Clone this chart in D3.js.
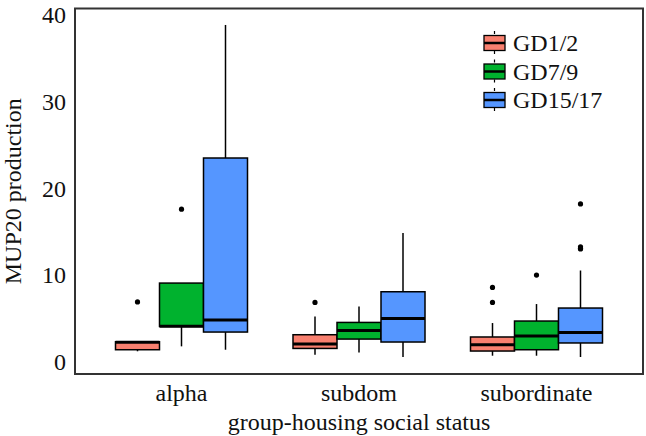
<!DOCTYPE html>
<html>
<head>
<meta charset="utf-8">
<script src="https://cdn.jsdelivr.net/npm/d3@7"></script>
<style>
  body { margin: 0; background: #fff; }
  text { font-family: "Liberation Serif", "Times New Roman", serif; fill: #111; }
</style>
</head>
<body>
<script>
// Categories and series
var categories = ["alpha", "subdom", "subordinate"];
var series = ["GD1/2", "GD7/9", "GD15/17"];
var colors = ["#f9806f", "#00b22e", "#5596ff"];
var yTicks = [0, 10, 20, 30, 40];

// Box statistics, one row per category, one value per series
var whiskerLow = [[1.2, 1.77, 1.38], [0.8, 1.07, 0.54], [0.69, 0.69, 0.54]];
var q1 = [[1.38, 4.07, 3.42], [1.53, 2.61, 2.27], [1.23, 1.38, 2.16]];
var median = [[2.25, 4.1, 4.8], [2.03, 3.61, 4.99], [1.96, 2.96, 3.38]];
var q3 = [[2.3, 9.07, 23.5], [3.11, 4.53, 8.07], [2.85, 4.69, 6.19]];
var whiskerHigh = [[2.3, 9.07, 38.85], [5.22, 6.37, 14.84], [4.46, 6.65, 10.52]];
var outliers = [[[6.9], [17.6], []], [[6.84], [], []], [[6.84, 8.57], [9.99], [13.0, 13.1, 13.25, 18.2]]];

window.onload = drawChart();
function drawChart(){

  var width = 646,
      height = 436;
  var left = 75, right = 643, top = 8.5, bottom = 374;

  var svg = d3.select("body")
      .append("svg")
      .attr("width", width)
      .attr("height", height);

  // Scales
  var x = d3.scalePoint()
      .domain(categories)
      .range([left, right])
      .padding(0.6);
  var xInner = d3.scaleBand()
      .domain(series)
      .range([-66, 66]);
  var y = d3.scaleLinear()
      .domain([-1.42, 40.75])
      .range([bottom, top]);

  // Flatten the stats into one record per box
  var boxes = [];
  categories.forEach(function(c, i){
    series.forEach(function(s, j){
      boxes.push({
        cat: c, ser: s, color: colors[j],
        lo: whiskerLow[i][j], q1: q1[i][j], med: median[i][j],
        q3: q3[i][j], hi: whiskerHigh[i][j], out: outliers[i][j]
      });
    });
  });

  var bw = xInner.bandwidth();
  var g = svg.selectAll(".box")
      .data(boxes)
      .enter()
      .append("g")
      .attr("class", "box")
      .attr("transform", function(d){ return "translate(" + (x(d.cat) + xInner(d.ser)) + ",0)"; });

  // Whiskers
  g.append("line")
      .attr("x1", bw / 2).attr("x2", bw / 2)
      .attr("y1", function(d){ return y(d.hi); })
      .attr("y2", function(d){ return y(d.q3); })
      .attr("stroke", "#000").attr("stroke-width", 1.5);
  g.append("line")
      .attr("x1", bw / 2).attr("x2", bw / 2)
      .attr("y1", function(d){ return y(d.q1); })
      .attr("y2", function(d){ return y(d.lo); })
      .attr("stroke", "#000").attr("stroke-width", 1.5);

  // Boxes
  g.append("rect")
      .attr("x", 0)
      .attr("width", bw)
      .attr("y", function(d){ return y(d.q3); })
      .attr("height", function(d){ return y(d.q1) - y(d.q3); })
      .attr("fill", function(d){ return d.color; })
      .attr("stroke", "#000")
      .attr("stroke-width", 1.5);

  // Medians
  g.append("line")
      .attr("x1", 0).attr("x2", bw)
      .attr("y1", function(d){ return y(d.med); })
      .attr("y2", function(d){ return y(d.med); })
      .attr("stroke", "#000").attr("stroke-width", 3);

  // Outliers
  g.selectAll(".out")
      .data(function(d){ return d.out; })
      .enter()
      .append("circle")
      .attr("class", "out")
      .attr("cx", bw / 2)
      .attr("cy", function(v){ return y(v); })
      .attr("r", 2.6)
      .attr("fill", "#000");

  // Frame
  svg.append("rect")
      .attr("x", left).attr("y", top)
      .attr("width", right - left).attr("height", bottom - top)
      .attr("fill", "none")
      .attr("stroke", "#333")
      .attr("stroke-width", 2);

  // Y tick labels
  svg.selectAll(".ytick")
      .data(yTicks)
      .enter()
      .append("text")
      .attr("class", "ytick")
      .attr("x", 66)
      .attr("y", function(d){ return y(d); })
      .attr("dy", "0.35em")
      .attr("text-anchor", "end")
      .style("font-size", "24px")
      .text(function(d){ return d; });

  // X category labels
  svg.selectAll(".xtick")
      .data(categories)
      .enter()
      .append("text")
      .attr("class", "xtick")
      .attr("x", function(d){ return x(d); })
      .attr("y", 401)
      .attr("text-anchor", "middle")
      .style("font-size", "24px")
      .text(function(d){ return d; });

  // Axis titles
  svg.append("text")
      .attr("x", (left + right) / 2)
      .attr("y", 430)
      .attr("text-anchor", "middle")
      .style("font-size", "24px")
      .text("group-housing social status");

  svg.append("text")
      .attr("transform", "translate(21," + ((top + bottom) / 2) + ") rotate(-90)")
      .attr("text-anchor", "middle")
      .style("font-size", "24px")
      .text("MUP20 production");

  // Legend
  var legend = svg.selectAll(".legend")
      .data(series)
      .enter()
      .append("g")
      .attr("class", "legend")
      .attr("transform", function(d, i){ return "translate(484," + (43 + i * 28.5) + ")"; });

  legend.append("line")
      .attr("x1", 10.5).attr("x2", 10.5)
      .attr("y1", -12).attr("y2", 12)
      .attr("stroke", "#000").attr("stroke-width", 1.2)
      .attr("stroke-dasharray", "3,2");
  legend.append("rect")
      .attr("x", 0).attr("y", -7.5)
      .attr("width", 21).attr("height", 15)
      .attr("fill", function(d, i){ return colors[i]; })
      .attr("stroke", "#000").attr("stroke-width", 1.3);
  legend.append("line")
      .attr("x1", 0).attr("x2", 21)
      .attr("y1", 0).attr("y2", 0)
      .attr("stroke", "#000").attr("stroke-width", 2.5);
  legend.append("text")
      .attr("x", 29)
      .attr("y", 0)
      .attr("dy", "0.35em")
      .style("font-size", "24px")
      .text(function(d){ return d; });
};
</script>
</body>
</html>
